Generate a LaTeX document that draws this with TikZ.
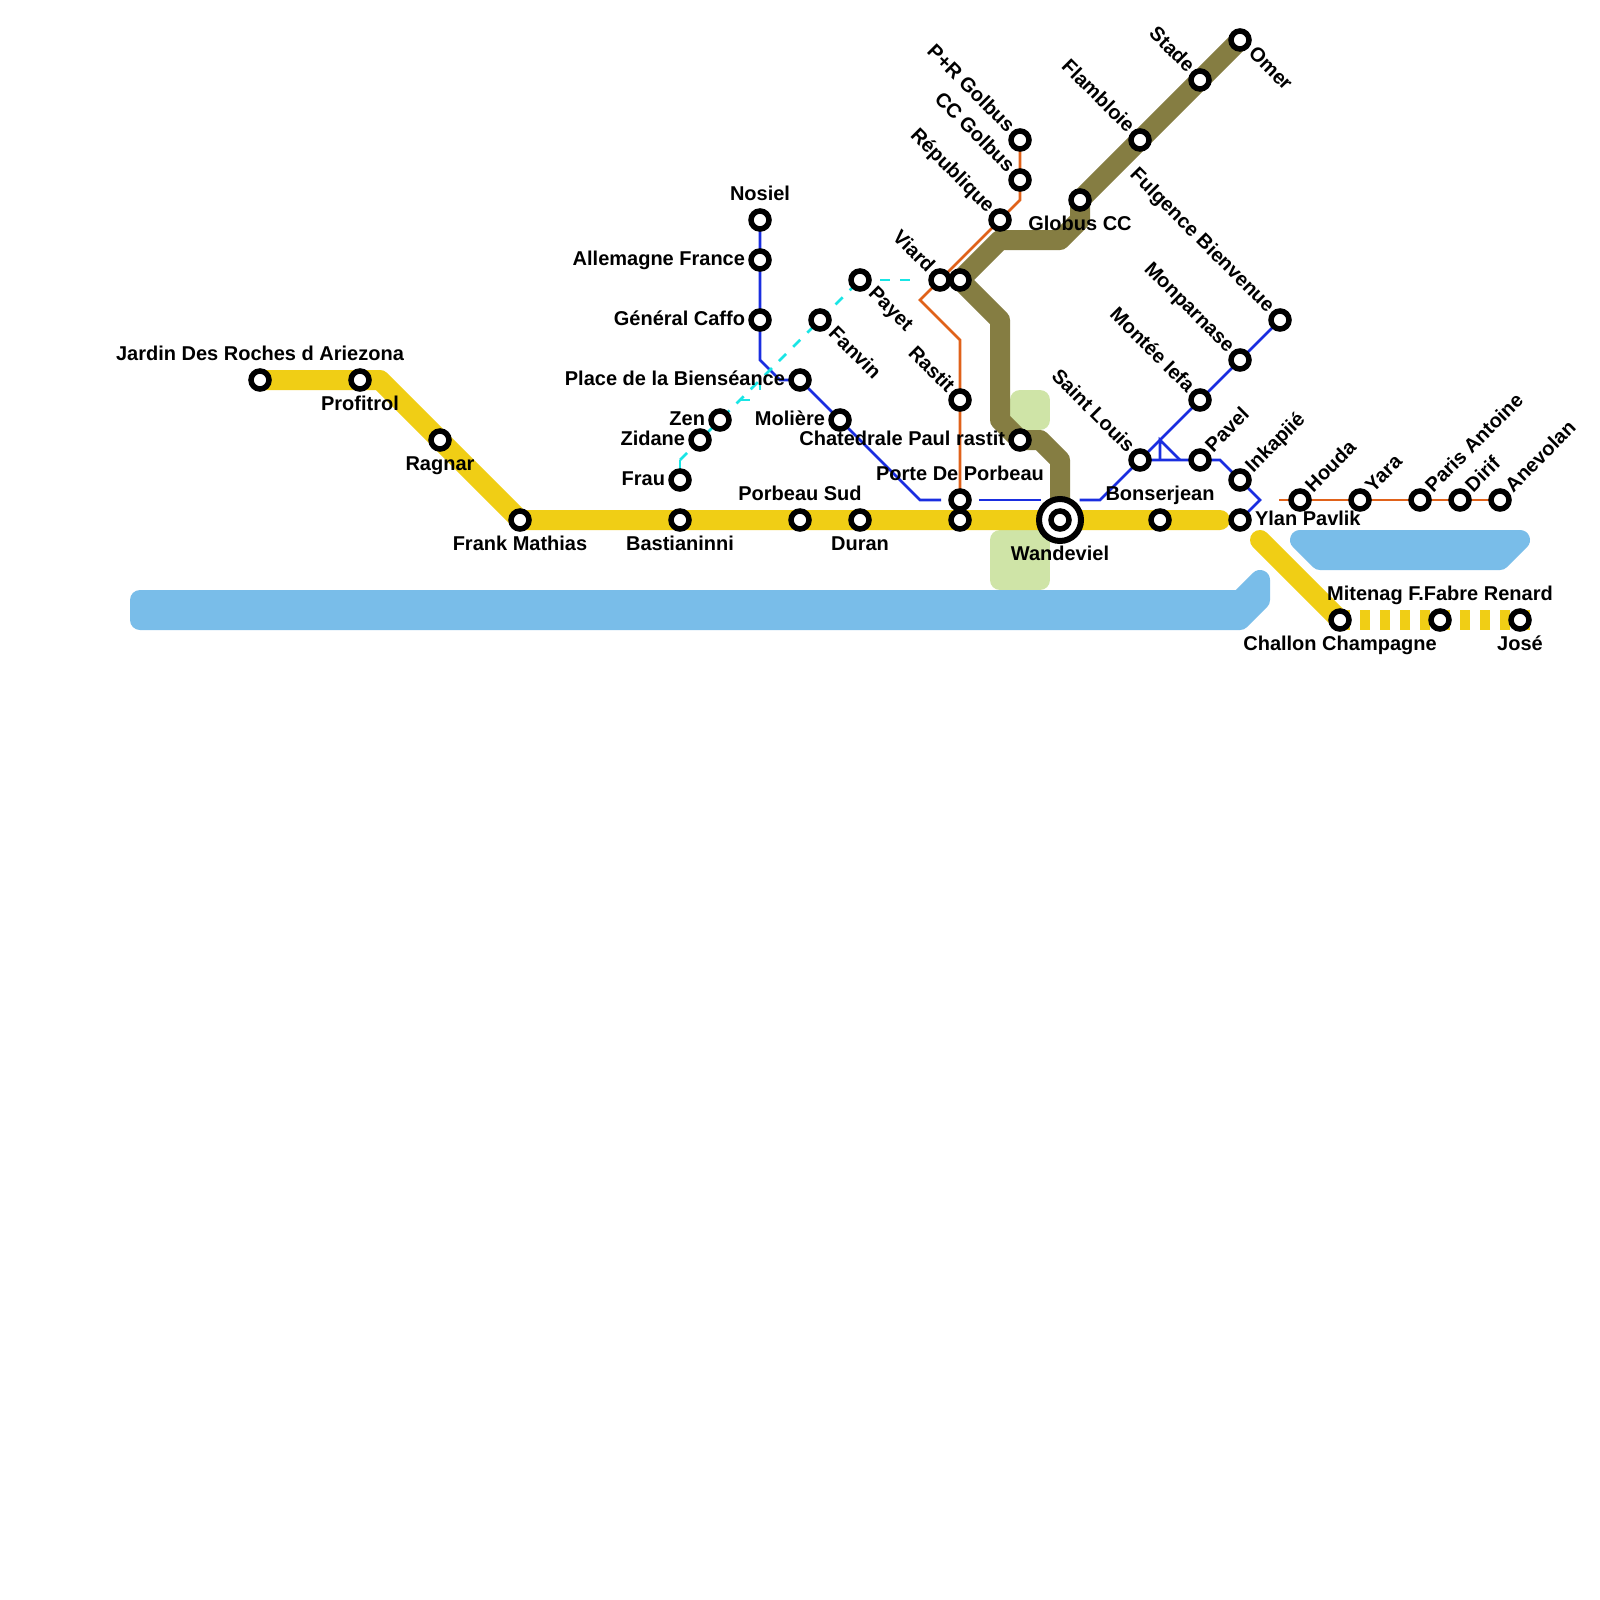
\documentclass[tikz,border=0pt]{standalone}
\usepackage{fontspec}
\setmainfont{Liberation Sans}
\pgfdeclarelayer{under}
\pgfsetlayers{under,main}
\definecolor{cwater}{HTML}{79BDE9}
\definecolor{cpark}{HTML}{CFE4A7}
\definecolor{cyellow}{HTML}{F0CE15}
\definecolor{colive}{HTML}{857D42}
\definecolor{cblue}{HTML}{1A2EE0}
\definecolor{corange}{HTML}{E0621A}
\definecolor{ccyan}{HTML}{19E5E5}
\tikzset{
  stationdot/.style={circle,draw=black,fill=white,line width=5.5pt,minimum size=18pt,inner sep=0pt,outer sep=0pt},
  hubring/.style={circle,draw=black,fill=white,line width=6pt,minimum size=42pt,inner sep=0pt,outer sep=0pt},
  area/.style={line width=20pt,line join=round},
  water/.style={area,draw=cwater,fill=cwater},
  park/.style={area,draw=cpark,fill=cpark},
  thick line/.style={line width=20pt,line join=round},
  thin line/.style={line width=2.6pt,line join=miter},
  lbl/.style={inner sep=0pt,outer sep=0pt,text=black,font=\fontsize{20}{24}\selectfont\bfseries},
  lA/.style={lbl,anchor=base,yshift=20pt},
  lB/.style={lbl,anchor=base,yshift=-30pt},
  lW/.style={lbl,anchor=base,yshift=-40pt},
  lL/.style={lbl,anchor=base east,xshift=-15pt,yshift=-5pt},
  lR/.style={lbl,anchor=base west,xshift=15pt,yshift=-5pt},
  lUL/.style={lbl,anchor=base east,xshift=-13.3pt,yshift=6.5pt,rotate=-45},
  lDR/.style={lbl,anchor=base west,xshift=7.5pt,yshift=-14.5pt,rotate=-45},
  lUR/.style={lbl,anchor=base west,xshift=13.3pt,yshift=7pt,rotate=45},
}
\newcommand{\sta}[5]{\node[stationdot] (#1) at (#2,#3) {}; \node[#4] (#1-l) at (#2,#3) {#5};}
\begin{document}
\begin{tikzpicture}[x=1pt,y=-1pt]
\useasboundingbox (0,0) rectangle (1600,1600);

% hub
\node[hubring] (wandring) at (1060,520) {};
% yellow
\sta{jardin}{260}{380}{lA}{Jardin Des Roches d Ariezona}
\sta{profitrol}{360}{380}{lB}{Profitrol}
\sta{ragnar}{440}{440}{lB}{Ragnar}
\sta{frank}{520}{520}{lB}{Frank Mathias}
\sta{bast}{680}{520}{lB}{Bastianinni}
\sta{porbeausud}{800}{520}{lA}{Porbeau Sud}
\sta{duran}{860}{520}{lB}{Duran}
\node[stationdot] (x960) at (960,520) {};
\sta{wand}{1060}{520}{lW}{Wandeviel}
\sta{bonser}{1160}{520}{lA}{Bonserjean}
\sta{ylan}{1240}{520}{lR}{Ylan Pavlik}
\sta{challon}{1340}{620}{lB}{Challon Champagne}
\sta{fabre}{1440}{620}{lA}{Mitenag F.Fabre Renard}
\sta{jose}{1520}{620}{lB}{José}
% blue
\sta{nosiel}{760}{220}{lA}{Nosiel}
\sta{allem}{760}{260}{lL}{Allemagne France}
\sta{caffo}{760}{320}{lL}{Général Caffo}
\sta{place}{800}{380}{lL}{Place de la Bienséance}
\sta{moliere}{840}{420}{lL}{Molière}
\sta{porte}{960}{500}{lA}{Porte De Porbeau}
\sta{stlouis}{1140}{460}{lUL}{Saint Louis}
\sta{iefa}{1200}{400}{lUL}{Montée Iefa}
\sta{monpar}{1240}{360}{lUL}{Monparnase}
\sta{fulg}{1280}{320}{lUL}{Fulgence Bienvenue}
\sta{pavel}{1200}{460}{lUR}{Pavel}
\sta{inka}{1240}{480}{lUR}{Inkapiié}
% cyan
\sta{frau}{680}{480}{lL}{Frau}
\sta{zidane}{700}{440}{lL}{Zidane}
\sta{zen}{720}{420}{lL}{Zen}
\sta{fanvin}{820}{320}{lDR}{Fanvin}
\sta{payet}{860}{280}{lDR}{Payet}
% orange
\sta{prgolbus}{1020}{140}{lUL}{P+R Golbus}
\sta{ccgolbus}{1020}{180}{lUL}{CC Golbus}
\sta{repub}{1000}{220}{lUL}{République}
\sta{viard}{940}{280}{lUL}{Viard}
\sta{rastit}{960}{400}{lUL}{Rastit}
\sta{houda}{1300}{500}{lUR}{Houda}
\sta{yara}{1360}{500}{lUR}{Yara}
\sta{paris}{1420}{500}{lUR}{Paris Antoine}
\sta{dirif}{1460}{500}{lUR}{Dirif}
\sta{anevolan}{1500}{500}{lUR}{Anevolan}
% olive
\node[stationdot] (x960b) at (960,280) {};
\sta{chated}{1020}{440}{lL}{Chatedrale Paul rastit}
\sta{globus}{1080}{200}{lB}{Globus CC}
\sta{flamb}{1140}{140}{lUL}{Flambloie}
\sta{stade}{1200}{80}{lUL}{Stade}
\sta{omer}{1240}{40}{lDR}{Omer}

% free ends
\coordinate (bA) at (941,500);
\coordinate (bB) at (979,500);
\coordinate (bC) at (1040.5,500);
\coordinate (bD) at (1079.5,500);
\coordinate (triTop) at (1160,440);
\coordinate (triL) at (1160,460);
\coordinate (triR) at (1180,460);
\coordinate (oStart) at (1279,500);
\coordinate (yStart) at (1260,540);
\coordinate (yStop) at (1220,520);
\coordinate (yEnd) at (1530,620);
\coordinate (cBend) at (680,460);
\coordinate (cHorizEnd) at (920,280);
\coordinate (cTriA) at (760,380);
\coordinate (cTriB) at (760,400);
\coordinate (cTriC) at (740,400);

\begin{pgfonlayer}{under}
\fill[white] (0,0) rectangle (1600,1600);
\path[water] (140,600) -- (1240,600) -- (1260,580) -- (1260,600) -- (1240,620) -- (140,620) -- cycle;
\path[water] (1300,540) -- (1520,540) -- (1500,560) -- (1320,560) -- cycle;
\path[park] (1020,400) rectangle (1040,420);
\path[park] (1000,540) rectangle (1040,580);

\draw[thin line,draw=cblue] (nosiel.center) -- (760,360) -- (780,380) -- (place.center) -- (920,500) -- (bA);
\draw[thin line,draw=cblue] (bB) -- (bC);
\draw[thin line,draw=cblue] (bD) -- (1100,500) -- (fulg.center);
\draw[thin line,draw=cblue] (stlouis.center) -- (1220,460) -- (1260,500) -- (ylan.center);
\draw[thin line,draw=cblue] (triL) -- (triTop) -- (triR);

\draw[thin line,draw=corange] (prgolbus.center) -- (1020,200) -- (920,300) -- (960,340) -- (porte.center);
\draw[thin line,draw=corange] (oStart) -- (anevolan.center);

\draw[thin line,draw=ccyan,dash pattern=on 10pt off 10pt] (cBend) -- (frau.center);
\draw[thin line,draw=ccyan,dash pattern=on 10pt off 10pt] (cBend) -- (payet.center);
\draw[thin line,draw=ccyan,dash pattern=on 10pt off 10pt] (payet.center) -- (cHorizEnd);
\draw[thin line,draw=ccyan,dash pattern=on 10pt off 10pt] (cTriA) -- (cTriB);
\draw[thin line,draw=ccyan,dash pattern=on 10pt off 10pt] (cTriC) -- (cTriB);

\draw[thick line,draw=colive] (omer.center) -- (globus.center) -- (1080,220) -- (1060,240) -- (1000,240) -- (x960b.center) -- (1000,320) -- (1000,420) -- (chated.center) -- (1040,440) -- (1060,460) -- (wand.center);

\draw[thick line,draw=cyellow,line cap=round] (jardin.center) -- (380,380) -- (frank.center) -- (yStop);
\draw[thick line,draw=cyellow,line cap=round] (yStart) -- (challon.center);
\draw[line width=20pt,draw=cyellow,dash pattern=on 10pt off 10pt] (challon.center) -- (yEnd);
\end{pgfonlayer}
\end{tikzpicture}
\end{document}
